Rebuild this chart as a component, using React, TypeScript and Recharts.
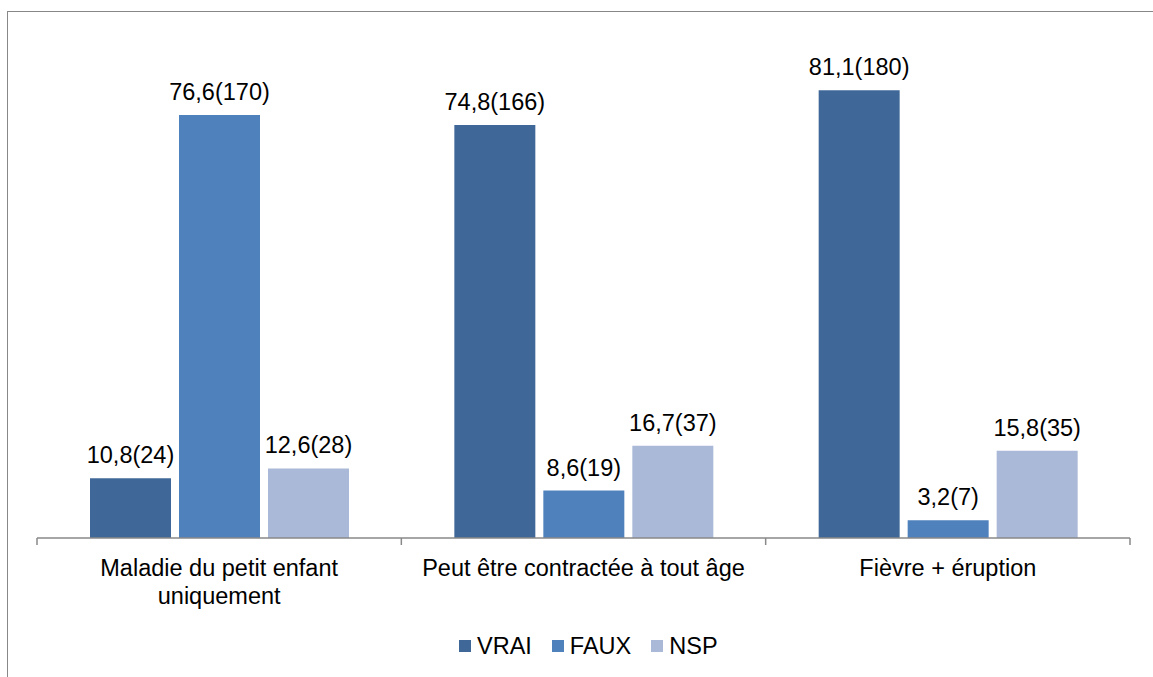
import React from "react";
import { BarChart, Bar, XAxis, YAxis, LabelList, Legend } from "recharts";

const categories = [
  "Maladie du petit enfant uniquement",
  "Peut être contractée à tout âge",
  "Fièvre + éruption",
];
const tickLines = [
  ["Maladie du petit enfant", "uniquement"],
  ["Peut être contractée à tout âge"],
  ["Fièvre + éruption"],
];
const seriesNames = ["VRAI", "FAUX", "NSP"];
const vraiPct = [10.8, 74.8, 81.1];
const vraiN = [24, 166, 180];
const fauxPct = [76.6, 8.6, 3.2];
const fauxN = [170, 19, 7];
const nspPct = [12.6, 16.7, 15.8];
const nspN = [28, 37, 35];
const colors = ["#3F6899", "#4F81BD", "#AAB9D7"];

const FONT = '"Liberation Sans", Arial, sans-serif';
const FS = 23.5;

const fmt = (v: number, n: number) => `${v.toFixed(1).replace(".", ",")}(${n})`;

const data = categories.map((c, i) => ({
  name: c,
  vrai: vraiPct[i],
  faux: fauxPct[i],
  nsp: nspPct[i],
  vraiLabel: fmt(vraiPct[i], vraiN[i]),
  fauxLabel: fmt(fauxPct[i], fauxN[i]),
  nspLabel: fmt(nspPct[i], nspN[i]),
}));

const CategoryTick = (props: any) => {
  const { x, y, payload, width, visibleTicksCount, index } = props;
  const half =
    payload && typeof payload.offset === "number" && payload.offset > 0
      ? payload.offset
      : width / visibleTicksCount / 2;
  const idx = categories.indexOf(payload.value);
  const lines = tickLines[idx] || [payload.value];
  const isLast = index === visibleTicksCount - 1;
  return (
    <g>
      <line x1={x - half} x2={x - half} y1={y} y2={y + 7} stroke="#898989" strokeWidth={1.5} />
      {isLast && (
        <line x1={x + half} x2={x + half} y1={y} y2={y + 7} stroke="#898989" strokeWidth={1.5} />
      )}
      <text x={x} y={y} textAnchor="middle" fontSize={FS} fontFamily={FONT} fill="#000">
        {lines.map((l, i) => (
          <tspan key={i} x={x} dy={i === 0 ? 38 : 27.5}>
            {l}
          </tspan>
        ))}
      </text>
    </g>
  );
};

const renderLegend = () => (
  <div
    style={{
      display: "flex",
      alignItems: "center",
      fontFamily: FONT,
      fontSize: FS,
      lineHeight: "26px",
      color: "#000",
    }}
  >
    {seriesNames.map((n, i) => (
      <div key={n} style={{ display: "flex", alignItems: "center", marginRight: 20 }}>
        <span
          style={{
            display: "inline-block",
            width: 12,
            height: 12,
            background: colors[i],
            marginRight: 6,
          }}
        />
        <span>{n}</span>
      </div>
    ))}
  </div>
);

export default function App() {
  return (
    <div
      style={{
        position: "absolute",
        left: 0,
        top: 0,
        width: 1153,
        height: 677,
        overflow: "hidden",
        background: "#fff",
      }}
    >
      <div style={{ position: "absolute", left: 8, top: 8 }}>
        <BarChart
          width={1145}
          height={669}
          data={data}
          margin={{ top: 33, right: 23, left: 29, bottom: 79 }}
          barCategoryGap={53}
          barGap={8}
        >
          <XAxis
            dataKey="name"
            height={60}
            interval={0}
            tickLine={false}
            tickSize={0}
            tickMargin={0}
            axisLine={{ stroke: "#898989", strokeWidth: 1.5 }}
            tick={<CategoryTick />}
          />
          <YAxis hide domain={[0, 90]} />
          <Legend
            layout="horizontal"
            verticalAlign="middle"
            align="center"
            content={renderLegend}
            wrapperStyle={{ left: 451, top: 625, width: 400 }}
          />
          <Bar dataKey="vrai" name={seriesNames[0]} fill={colors[0]} isAnimationActive={false}>
            <LabelList dataKey="vraiLabel" position="top" offset={15} fill="#000" fontSize={FS} fontFamily={FONT} />
          </Bar>
          <Bar dataKey="faux" name={seriesNames[1]} fill={colors[1]} isAnimationActive={false}>
            <LabelList dataKey="fauxLabel" position="top" offset={15} fill="#000" fontSize={FS} fontFamily={FONT} />
          </Bar>
          <Bar dataKey="nsp" name={seriesNames[2]} fill={colors[2]} isAnimationActive={false}>
            <LabelList dataKey="nspLabel" position="top" offset={15} fill="#000" fontSize={FS} fontFamily={FONT} />
          </Bar>
        </BarChart>
      </div>
      <div
        style={{
          position: "absolute",
          left: 7,
          top: 11,
          width: 1146,
          height: 666,
          borderLeft: "1px solid #888",
          borderTop: "1px solid #888",
          boxSizing: "border-box",
          pointerEvents: "none",
        }}
      />
    </div>
  );
}
